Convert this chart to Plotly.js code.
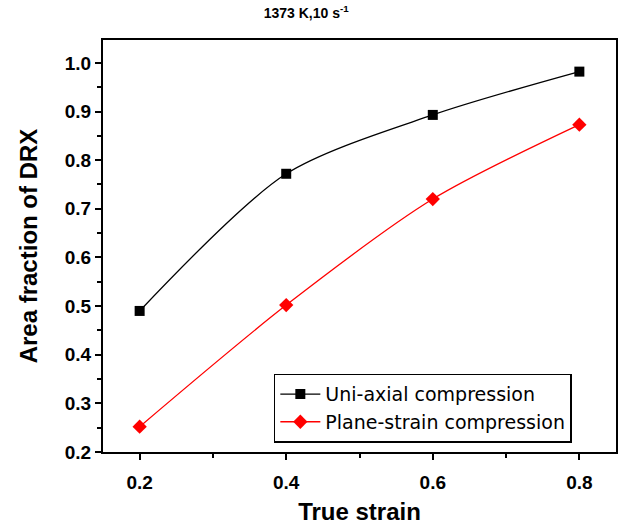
<!DOCTYPE html>
<html><head><meta charset="utf-8">
<script src="https://cdn.plot.ly/plotly-3.0.1.min.js"></script>
<style>body{margin:0;background:#fff}#chart{width:621px;height:527px}</style>
</head><body><div id="chart"></div>
<script>
const strain = [0.2, 0.4, 0.6, 0.8];
const uniAxial = [0.49, 0.772, 0.893, 0.982];
const planeStrain = [0.252, 0.502, 0.72, 0.873];
const seriesNames = ["Uni-axial compression", "Plane-strain compression"];
const xTicks = [0.2, 0.4, 0.6, 0.8];
const yTicks = [0.2, 0.3, 0.4, 0.5, 0.6, 0.7, 0.8, 0.9, 1.0];

const traces = [
  {x: strain, y: uniAxial, name: seriesNames[0], mode: "lines+markers",
   line: {color: "#000", width: 1.3, shape: "spline", smoothing: 0.8},
   marker: {symbol: "square", size: 10, color: "#000"}},
  {x: strain, y: planeStrain, name: seriesNames[1], mode: "lines+markers",
   line: {color: "#ff0000", width: 1.3, shape: "spline", smoothing: 0.8},
   marker: {symbol: "diamond", size: 11, color: "#ff0000"}}
];
const layout = {
  width: 621, height: 527,
  margin: {l: 103, r: 5, t: 40, b: 75},
  paper_bgcolor: "#fff", plot_bgcolor: "#fff",
  font: {family: "Arial, Liberation Sans, sans-serif", color: "#000"},
  title: {text: "1373 K,10 s<sup>-1</sup>", xref: "container", x: 0.493, xanchor: "center",
          yref: "container", y: 0.984, yanchor: "top",
          font: {size: 14, color: "#000", weight: "bold"}},
  xaxis: {range: [0.15, 0.85], tickmode: "array", tickvals: xTicks, ticktext: xTicks.map(v => "<b>" + v.toFixed(1) + "</b>"),
          ticks: "outside", ticklen: 6, tickwidth: 2, tickcolor: "#000", ticklabelstandoff: 6,
          showline: true, linewidth: 2, linecolor: "#000", mirror: true,
          showgrid: false, zeroline: false,
          tickfont: {family: "Arial, Liberation Sans, sans-serif", size: 19, color: "#000"},
          minor: {tickvals: [0.3, 0.5, 0.7], ticks: "outside", ticklen: 4, tickwidth: 2, tickcolor: "#000"},
          title: {text: "True strain", font: {size: 24, color: "#000", weight: "bold"}, standoff: 11}},
  yaxis: {range: [0.2, 1.047], tickmode: "array", tickvals: yTicks, ticktext: yTicks.map(v => "<b>" + v.toFixed(1) + "</b>"),
          ticks: "outside", ticklen: 6, tickwidth: 2, tickcolor: "#000",
          showline: true, linewidth: 2, linecolor: "#000", mirror: true,
          showgrid: false, zeroline: false,
          tickfont: {family: "Arial, Liberation Sans, sans-serif", size: 19, color: "#000"},
          minor: {dtick: 0.05, ticks: "outside", ticklen: 4, tickwidth: 2, tickcolor: "#000"},
          title: {text: "Area fraction of DRX", font: {size: 24, color: "#000", weight: "bold"}, standoff: 20}},
  legend: {x: 0.333, y: 0.19, xanchor: "left", yanchor: "top",
           bordercolor: "#000", borderwidth: 1.5, bgcolor: "#fff",
           font: {family: "DejaVu Sans, sans-serif", size: 19, color: "#000"}, tracegroupgap: 0, itemwidth: 40},
  showlegend: true
};
Plotly.newPlot("chart", traces, layout, {displayModeBar: false, staticPlot: true});
</script></body></html>
